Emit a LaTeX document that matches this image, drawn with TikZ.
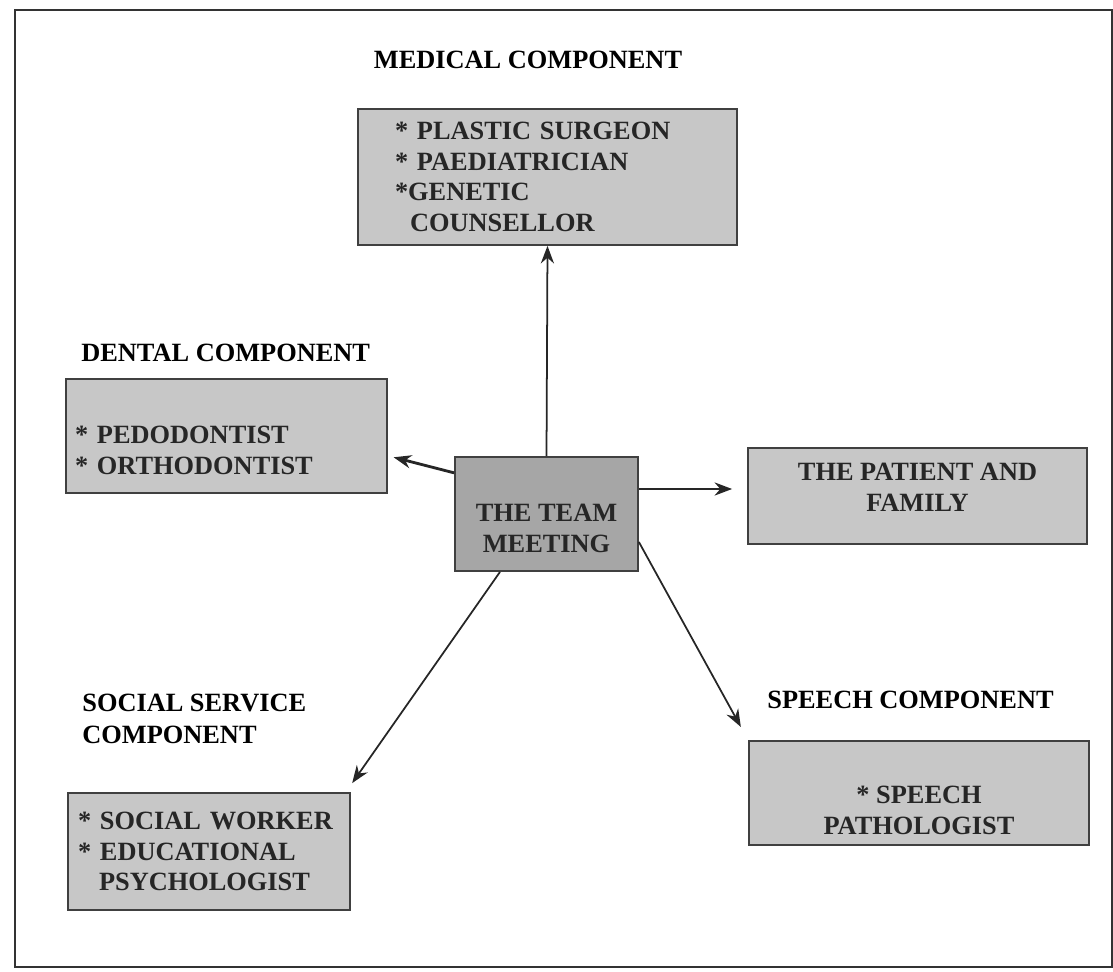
\documentclass[tikz,border=0pt]{standalone}
\usepackage{fontspec}
\setmainfont{Liberation Serif}
\usepackage{tikz}
\usetikzlibrary{arrows.meta}

\begin{document}
\begin{tikzpicture}[x=0.02cm,y=-0.02cm,
  >={Stealth[length=10pt,width=7.5pt]},
  comp/.style={draw=black!75,line width=1pt,fill=black!22,inner sep=0pt,
    text=black!85,font=\bfseries\fontsize{15}{17.5}\selectfont},
  head/.style={inner sep=0pt,font=\bfseries\fontsize{15}{18}\selectfont},
  link/.style={->,line width=1pt,draw=black!85}]
\useasboundingbox (0,0) rectangle (1113,972);
\draw[line width=1.5pt,draw=black!80] (15,10) rectangle (1112,967);

\node[head] (medT) at (528,60) {MEDICAL COMPONENT};
\node[comp,minimum height=136*0.02cm,inner xsep=0.74cm,text width=6.1cm,align=left] (med) at (547.5,177) {* PLASTIC SURGEON\\{}* PAEDIATRICIAN\\{}*GENETIC\\\hspace*{0.3cm}COUNSELLOR};
\node[head,anchor=west] (denT) at (81,353) {DENTAL COMPONENT};
\node[comp,minimum height=114*0.02cm,inner xsep=0.18cm,text width=6.06cm,align=left] (den) at (226.5,436) {\rule{0pt}{26pt}* PEDODONTIST\\{}* ORTHODONTIST};
\node[comp,fill=black!35,minimum width=183*0.02cm,minimum height=114*0.02cm,align=center] (team) at (546.5,514) {\rule{0pt}{26pt}THE TEAM\\MEETING};
\node[comp,minimum width=339*0.02cm,minimum height=96*0.02cm,align=center] (pat) at (917.5,496) {THE PATIENT AND\\FAMILY\rule[-10pt]{0pt}{0pt}};
\node[head,anchor=west,align=left] (socT) at (82,719) {SOCIAL SERVICE\\COMPONENT};
\node[comp,minimum height=117*0.02cm,inner xsep=0.2cm,text width=5.24cm,align=left] (soc) at (209,851.5) {* SOCIAL WORKER\\{}* EDUCATIONAL\\\hspace*{0.42cm}PSYCHOLOGIST};
\node[head] (spT) at (910.5,700) {SPEECH COMPONENT};
\node[comp,minimum width=340*0.02cm,minimum height=104*0.02cm,align=center] (sp) at (919,793) {\rule{0pt}{30pt}* SPEECH\\PATHOLOGIST};

\draw[link] (team.north) to (med.south);
\draw[link,line width=1.6pt,shorten >=0.12cm] (team.156) to (den.-7);
\draw[link,shorten >=0.3cm] ([yshift=0.5cm]team.east) to ([yshift=0.5cm]team.east -| pat.west);
\draw[link,shorten >=0.22cm] ([xshift=-0.93cm]team.south) to ([xshift=-0.1cm]soc.north east);
\draw[link,shorten >=0.3cm] ([yshift=-0.56cm]team.east) to (sp.north west);

\end{tikzpicture}
\end{document}
